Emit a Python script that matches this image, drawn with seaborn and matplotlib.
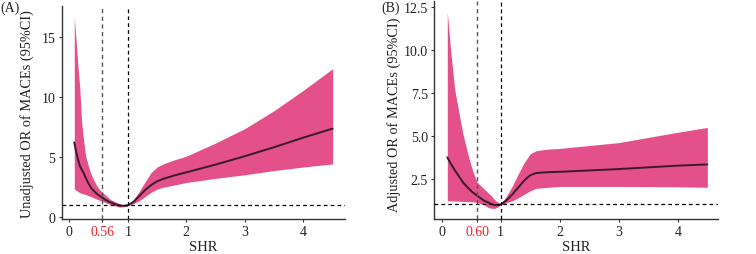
"""
Restricted cubic spline plot: OR of MACEs vs SHR (unadjusted / adjusted)
"""

import numpy as np
import pandas as pd
import seaborn as sns
import matplotlib.pyplot as plt

sns.set_style('ticks')
plt.rcParams['font.family'] = ['Liberation Serif', 'DejaVu Serif']

# Data

# Panel A - unadjusted
shr_a = [0.085, 0.12, 0.15, 0.18, 0.21, 0.24, 0.28, 0.33, 0.38, 0.45, 0.50, 0.56, 0.62,
         0.70, 0.78, 0.86, 0.93, 1.00, 1.10, 1.20, 1.30, 1.40, 1.50, 1.60, 1.80, 2.00,
         2.50, 3.00, 3.50, 4.00, 4.50]
or_a = [6.25, 5.4, 4.8, 4.3, 4.0, 3.75, 3.3, 2.8, 2.4, 2.05, 1.85, 1.65, 1.45,
        1.25, 1.1, 0.99, 0.96, 1.0, 1.3, 1.8, 2.3, 2.7, 3.0, 3.2, 3.5, 3.75,
        4.4, 5.1, 5.85, 6.65, 7.4]
lo_a = [2.36, 2.25, 2.15, 2.05, 2.0, 1.95, 1.9, 1.8, 1.7, 1.55, 1.45, 1.35, 1.22,
        1.08, 0.95, 0.85, 0.88, 0.97, 1.15, 1.4, 1.75, 2.1, 2.35, 2.5, 2.7, 2.9,
        3.25, 3.55, 3.9, 4.2, 4.45]
hi_a = [16.7, 14.5, 12.5, 10.7, 8.0, 6.6, 5.1, 4.2, 3.5, 2.8, 2.4, 2.1, 1.85,
        1.5, 1.3, 1.12, 1.03, 1.0, 1.5, 2.2, 3.0, 3.75, 4.2, 4.45, 4.8, 5.1,
        6.2, 7.4, 8.9, 10.6, 12.4]

# Panel B - adjusted
shr_b = [0.095, 0.15, 0.22, 0.32, 0.36, 0.45, 0.52, 0.60, 0.72, 0.78, 0.84, 0.89, 0.95,
         1.00, 1.10, 1.20, 1.30, 1.40, 1.50, 1.60, 1.80, 2.00, 3.00, 4.00, 4.50]
or_b = [3.74, 3.4, 3.0, 2.5, 2.29, 1.95, 1.72, 1.51, 1.22, 1.13, 1.03, 0.97, 0.96,
        1.0, 1.25, 1.6, 2.0, 2.4, 2.7, 2.83, 2.88, 2.9, 3.06, 3.26, 3.33]
lo_b = [1.22, 1.21, 1.2, 1.19, 1.18, 1.17, 1.16, 1.12, 0.98, 0.84, 0.78, 0.77, 0.85,
        0.99, 1.1, 1.22, 1.4, 1.6, 1.8, 1.94, 2.0, 2.05, 2.05, 2.03, 2.0]
hi_b = [12.2, 10.0, 7.7, 5.8, 5.1, 3.84, 3.0, 2.29, 1.9, 1.7, 1.51, 1.3, 1.13,
        1.03, 1.5, 2.1, 2.8, 3.45, 3.95, 4.13, 4.22, 4.26, 4.6, 5.2, 5.48]

cut_a = 0.56
cut_b = 0.60

# Figure

fig = plt.figure(figsize = (7.56, 2.55), dpi = 100)
axA = fig.add_axes([0.0816, 0.1373, 0.3747, 0.834])
axB = fig.add_axes([0.5745, 0.1373, 0.3752, 0.856])

fill_col = '#E3508A'
line_col = '#3A1A2A'

panels = [
    (axA, shr_a, or_a, lo_a, hi_a, cut_a, 'Unadjusted OR of MACEs (95%CI)',
     (-0.13, 4.71), (-0.14, 17.6), [0, 5, 10, 15], ['0', '5', '10', '15'],
     '(A)', 0.0, (-0.098, 0.5)),
    (axB, shr_b, or_b, lo_b, hi_b, cut_b, 'Adjusted OR of MACEs (95%CI)',
     (-0.125, 4.68), (0.157, 12.85), [2.5, 5.0, 7.5, 10.0, 12.5],
     ['2.5', '5.0', '7.5', '10.0', '12.5'], '(B)', 0.505, (-0.117, 0.48)),
]

for ax, x, y, lo, hi, cut, ylab, xl, yl, yt, ytl, tag, tx, lpos in panels:
    df = pd.DataFrame({'SHR': x, 'OR': y})
    ax.fill_between(x, lo, hi, color = fill_col, lw = 0, zorder = 1)
    sns.lineplot(data = df, x = 'SHR', y = 'OR', ax = ax, color = line_col, lw = 1.4, zorder = 3)
    ax.axhline(1, color = 'black', ls = (0, (3, 2.5)), lw = 0.9, zorder = 4)
    ax.axvline(cut, color = '#555555', ls = (0, (3, 2.5)), lw = 1.0, zorder = 4)
    ax.axvline(1, color = 'black', ls = (0, (3, 2.5)), lw = 0.9, zorder = 4)
    ax.set_xlim(*xl)
    ax.set_ylim(*yl)
    ax.set_xticks([0, cut, 1, 2, 3, 4])
    ax.set_xticklabels(['0', '{:.2f}'.format(cut), '1', '2', '3', '4'])
    ax.set_yticks(yt)
    ax.set_yticklabels(ytl)
    ax.tick_params(labelsize = 10, length = 2.5, width = 0.8, color = '#333333',
                   labelcolor = '#222222', pad = 2)
    ax.get_xticklabels()[1].set_color('#E8212B')
    ax.set_xlabel('SHR', fontsize = 10.5, labelpad = 1, color = '#222222')
    ax.set_ylabel(ylab, fontsize = 10.3, color = '#222222')
    ax.yaxis.set_label_coords(*lpos)
    for s in ['left', 'bottom']:
        ax.spines[s].set_color('#333333')
        ax.spines[s].set_linewidth(1.0)
    sns.despine(ax = ax)
    fig.text(tx, 0.995, tag, fontsize = 10, va = 'top', ha = 'left', color = '#222222')

fig.savefig('out.png', dpi = 100)
